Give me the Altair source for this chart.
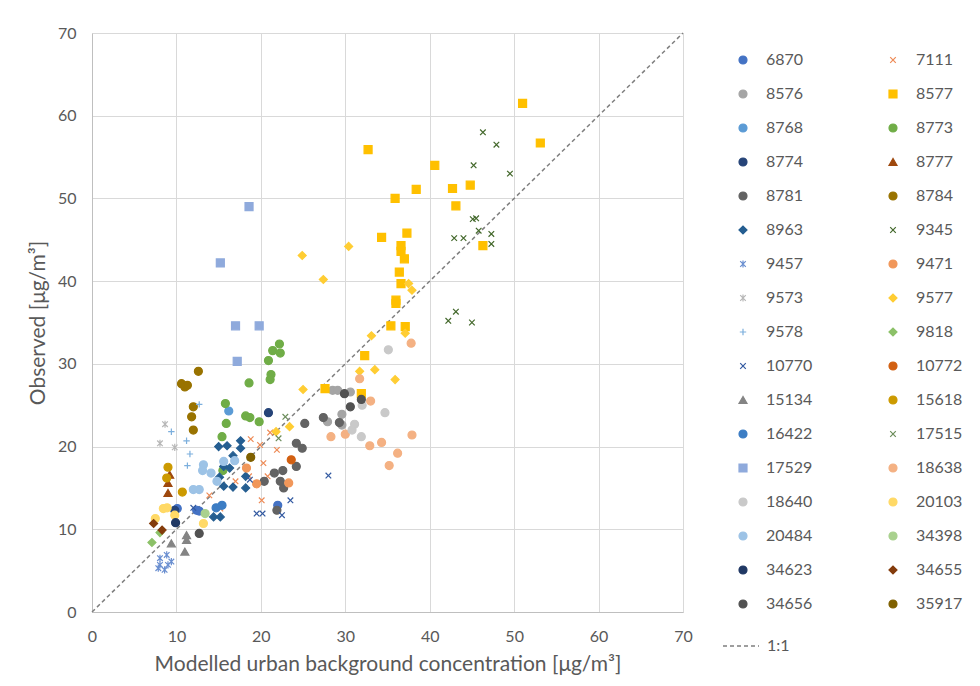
import altair as alt
import pandas as pd

# ---- series definitions (legend order) ----
series = ["6870", "7111", "8576", "8577", "8768", "8773", "8774", "8777", "8781", "8784",
          "8963", "9345", "9457", "9471", "9573", "9577", "9578", "9818", "10770", "10772",
          "15134", "15618", "16422", "17515", "17529", "18638", "18640", "20103", "20484",
          "34398", "34623", "34655", "34656", "35917"]

colors = ["#4472C4", "#EE8A55", "#A5A5A5", "#FFC000", "#5B9BD5", "#70AD47", "#264478", "#9E480E",
          "#636363", "#997300", "#255E91", "#43682B", "#698ED0", "#F1975A", "#B7B7B7", "#FFCD33",
          "#7CAFDD", "#8CC168", "#335AA1", "#D26012", "#848484", "#CC9A00", "#3C7DC4", "#6B8C5A",
          "#8FAADC", "#F4B183", "#C9C9C9", "#FFD966", "#9DC3E6", "#A9D18E", "#203864", "#843C0C",
          "#525252", "#7F6000"]

XMARK = "M-0.7,-0.7L0.7,0.7M-0.7,0.7L0.7,-0.7"
STAR = "M-0.7,-0.7L0.7,0.7M-0.7,0.7L0.7,-0.7M0,-0.9L0,0.9"
PLUS = "M-0.8,0L0.8,0M0,-0.8L0,0.8"
shapes = ["circle", XMARK, "circle", "square", "circle", "circle", "circle", "triangle-up",
          "circle", "circle", "diamond", XMARK, STAR, "circle", STAR, "diamond",
          PLUS, "diamond", XMARK, "circle", "triangle-up", "circle", "circle", XMARK,
          "square", "circle", "circle", "circle", "circle", "circle", "circle", "diamond",
          "circle", "circle"]

# ---- observations per station: (modelled, observed) ----
p6870 = [(12.4, 12.3), (12.7, 12.2), (10.1, 12.5), (22.0, 12.9)]
p7111 = [(18.8, 20.9), (19.9, 20.2), (21.1, 21.7), (21.9, 19.6), (20.3, 18.0), (20.8, 16.4),
         (18.6, 16.4), (17.0, 15.8), (13.9, 14.1), (20.1, 13.5), (15.2, 12.5)]
p8576 = [(28.5, 26.8), (29.1, 26.8), (30.6, 26.6), (29.6, 23.9), (27.9, 23.0), (29.6, 22.6)]
p8577 = [(51.0, 61.5), (32.7, 55.9), (53.1, 56.7), (40.6, 54.0), (38.4, 51.1), (42.7, 51.2),
         (44.8, 51.6), (43.1, 49.1), (35.9, 50.0), (34.3, 45.3), (37.3, 45.8), (36.6, 44.3),
         (36.6, 43.6), (37.0, 42.7), (36.4, 41.1), (36.6, 39.7), (46.3, 44.3), (36.0, 37.3),
         (35.4, 34.6), (37.1, 34.5), (32.3, 31.0), (27.6, 27.0), (31.9, 26.4), (36.0, 37.7)]
p8768 = [(16.2, 24.3)]
p8773 = [(22.2, 32.4), (21.4, 31.6), (22.3, 31.3), (20.9, 30.4), (21.2, 28.7), (21.1, 28.1),
         (18.6, 27.7), (15.8, 25.2), (18.2, 23.7), (18.7, 23.5), (19.8, 23.0), (15.9, 22.8),
         (15.4, 21.2), (15.5, 17.1)]
p8774 = [(20.9, 24.1), (9.8, 12.3)]
p8777 = [(9.2, 16.6), (9.0, 15.6), (9.0, 14.4)]
p8781 = [(25.2, 22.8), (24.2, 20.4), (24.9, 19.8), (24.2, 17.6), (21.6, 16.8), (22.6, 17.1),
         (20.4, 15.8), (22.3, 15.8), (22.7, 15.0), (21.9, 12.3), (27.4, 23.5), (29.3, 22.9)]
p8784 = [(12.6, 29.1), (10.6, 27.6), (11.0, 27.2), (11.3, 27.4), (12.0, 24.8), (11.8, 23.6),
         (12.0, 22.0)]
p8963 = [(15.0, 20.0), (16.0, 20.1), (17.6, 20.7), (17.6, 19.8), (16.7, 18.9), (15.6, 17.6),
         (16.3, 17.4), (15.1, 16.3), (15.6, 15.2), (16.7, 15.1), (18.2, 15.0), (18.2, 16.4),
         (14.4, 11.5), (15.2, 11.5)]
p9345 = [(46.3, 58.0), (47.9, 56.5), (45.2, 54.0), (49.5, 53.0), (45.1, 47.5), (45.5, 47.6),
         (42.9, 45.2), (44.0, 45.2), (45.8, 46.1), (47.3, 45.7), (47.3, 44.5), (42.2, 35.2),
         (43.1, 36.3), (45.0, 35.0)]
p9457 = [(8.05, 6.5), (8.85, 6.9), (9.4, 6.1), (7.85, 5.3), (8.6, 5.1), (9.0, 5.7), (8.05, 5.7)]
p9471 = [(18.3, 17.4), (19.5, 15.5), (23.3, 15.6)]
p9573 = [(8.65, 22.7), (8.05, 20.4), (9.8, 19.9)]
p9577 = [(24.9, 43.1), (27.4, 40.2), (30.4, 44.2), (37.5, 39.7), (37.9, 38.9), (33.1, 33.4),
         (37.1, 33.7), (31.7, 29.1), (33.5, 29.3), (35.9, 28.1), (25.0, 26.9), (21.8, 21.8),
         (23.4, 22.4)]
p9578 = [(12.7, 25.1), (9.4, 21.8), (11.2, 20.7), (11.6, 19.1), (11.3, 17.7)]
p9818 = [(7.1, 8.4), (8.05, 9.6)]
p10770 = [(12.0, 12.6), (19.5, 11.9), (20.2, 11.9), (22.5, 11.7), (23.5, 13.5), (18.7, 16.0),
          (28.0, 16.5)]
p10772 = [(23.6, 18.4)]
p15134 = [(9.4, 8.3), (11.2, 8.7), (11.2, 9.3), (11.0, 7.3)]
p15618 = [(9.0, 17.5), (8.85, 16.2), (10.7, 14.5)]
p16422 = [(15.4, 12.9), (14.7, 12.6)]
p17515 = [(22.9, 23.6), (22.1, 21.0)]
p17529 = [(18.6, 49.0), (15.2, 42.2), (17.0, 34.6), (19.8, 34.6), (17.2, 30.3)]
p18638 = [(37.8, 32.5), (31.7, 28.2), (33.0, 25.5), (28.3, 21.2), (30.0, 21.5), (32.9, 20.1),
          (34.3, 20.5), (36.2, 19.2), (35.2, 17.7), (37.9, 21.4)]
p18640 = [(35.1, 31.7), (32.0, 25.0), (34.7, 24.1), (31.1, 22.7), (30.8, 22.0), (31.9, 21.2)]
p20103 = [(8.45, 12.5), (7.5, 11.3), (13.2, 10.7), (9.8, 11.7), (8.9, 12.6)]
p20484 = [(13.2, 17.8), (13.1, 17.1), (14.1, 16.8), (14.8, 15.8), (15.6, 18.2), (16.9, 18.3),
          (12.0, 14.8), (12.7, 14.8)]
p34398 = [(13.4, 11.9)]
p34623 = [(9.9, 10.8)]
p34655 = [(7.3, 10.7), (8.3, 9.9)]
p34656 = [(12.7, 9.5), (29.9, 26.4), (30.6, 24.8), (31.9, 25.7)]
p35917 = [(18.8, 18.7)]

groups = [p6870, p7111, p8576, p8577, p8768, p8773, p8774, p8777, p8781, p8784,
          p8963, p9345, p9457, p9471, p9573, p9577, p9578, p9818, p10770, p10772,
          p15134, p15618, p16422, p17515, p17529, p18638, p18640, p20103, p20484,
          p34398, p34623, p34655, p34656, p35917]

rows = []
for name, pts in zip(series, groups):
    for (mx, ob) in pts:
        rows.append({"x": mx, "y": ob, "series": name})
df = pd.DataFrame(rows)

line_df = pd.DataFrame({"x": [0, 70], "y": [0, 70], "label": ["1:1", "1:1"]})

TXT = "#595959"
FONT = "Lato"

xenc = alt.X("x:Q", scale=alt.Scale(domain=[0, 70], nice=False),
             axis=alt.Axis(values=list(range(0, 71, 10)), labelFlush=False,
                           title="Modelled urban background concentration [μg/m³]"))
yenc = alt.Y("y:Q", scale=alt.Scale(domain=[0, 70], nice=False),
             axis=alt.Axis(values=list(range(0, 71, 10)), labelFlush=False,
                           title="Observed [μg/m³]"))

leg = alt.Legend(title=None, orient="none", legendX=643, legendY=19, columns=2,
                 direction="horizontal", symbolLimit=0,
                 columnPadding=72, rowPadding=18, symbolSize=64, symbolStrokeWidth=1.2,
                 labelFontSize=16, labelFont=FONT, labelColor=TXT, labelOffset=15,
                 symbolOpacity=1)

line = alt.Chart(line_df).mark_line(color="#7F7F7F", strokeWidth=1.5).encode(
    x=xenc, y=yenc,
    strokeDash=alt.StrokeDash("label:N", scale=alt.Scale(domain=["1:1"], range=[[4, 3]]),
                              legend=alt.Legend(title=None, orient="none", legendX=630,
                                                legendY=594, symbolSize=1296,
                                                symbolStrokeWidth=1.5, labelFontSize=16,
                                                labelFont=FONT, labelColor=TXT,
                                                labelOffset=7, symbolStrokeColor="#7F7F7F")),
)

pts_chart = alt.Chart(df).mark_point(filled=True, opacity=1, size=64, strokeWidth=1.2).encode(
    x="x:Q", y="y:Q",
    fill=alt.Fill("series:N", scale=alt.Scale(domain=series, range=colors), legend=leg),
    stroke=alt.Stroke("series:N", scale=alt.Scale(domain=series, range=colors), legend=leg),
    shape=alt.Shape("series:N", scale=alt.Scale(domain=series, range=shapes), legend=leg),
)

chart = alt.layer(line, pts_chart).resolve_scale(
    fill="independent", stroke="independent", shape="independent", strokeDash="independent"
).properties(
    width=591, height=579,
    autosize=alt.AutoSizeParams(type="none"),
    padding={"left": 84, "top": 25, "right": 280, "bottom": 70},
    background="white",
).configure_axis(
    labelFont=FONT, labelFontSize=16, labelColor=TXT, titleFont=FONT, titleFontSize=21,
    titleColor=TXT, titleFontWeight="normal", gridColor="#D9D9D9", domainColor="#BFBFBF",
    ticks=False, labelPadding=16,
).configure_axisX(titlePadding=9).configure_axisY(titlePadding=9).configure_view(stroke=None)

chart.save("out.html", embed_options={"renderer": "svg", "actions": False})
